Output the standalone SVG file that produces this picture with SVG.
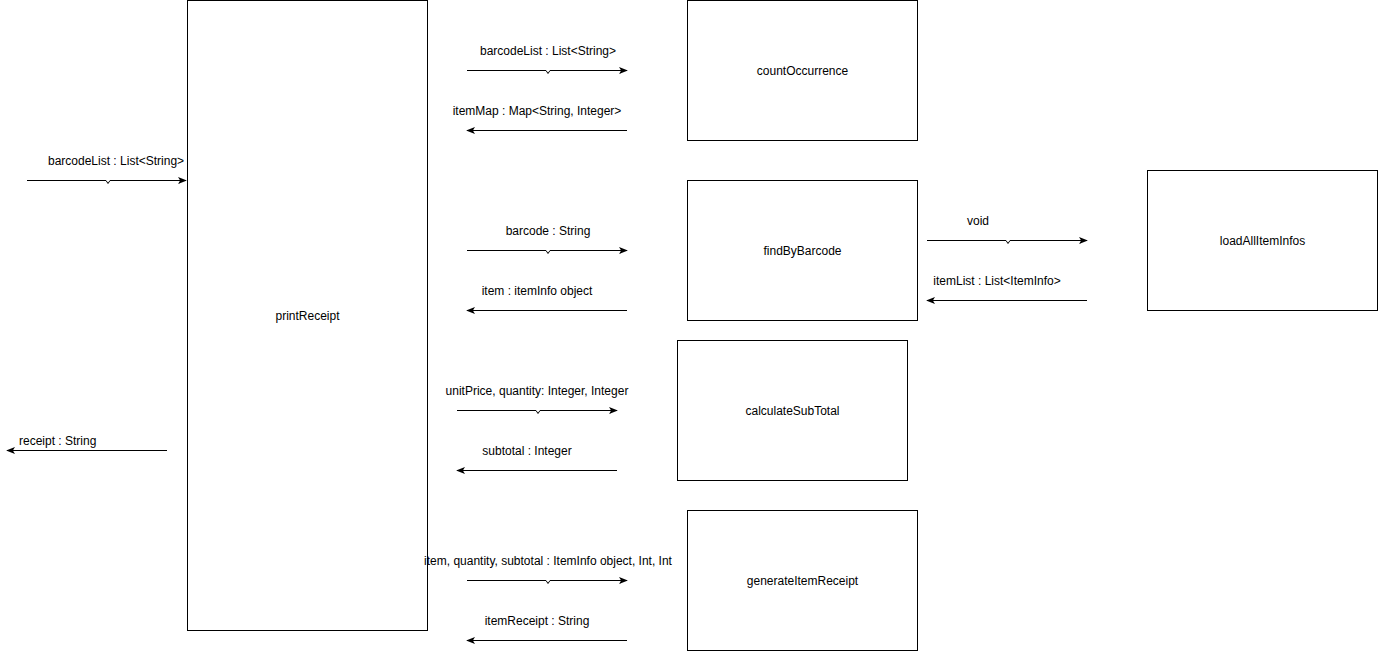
<svg xmlns="http://www.w3.org/2000/svg" width="1378" height="651" viewBox="0 0 1378 651">
<defs>
<style>
.box{fill:#fff;stroke:#000;stroke-width:1}
.lbl{font-family:"Liberation Sans",Arial,sans-serif;font-size:12px;fill:#000}
.c{text-anchor:middle}
.ln{fill:none;stroke:#000;stroke-width:1}
</style>
<marker id="ah" viewBox="0 0 10 10" refX="9" refY="5" markerWidth="9" markerHeight="9" markerUnits="userSpaceOnUse" orient="auto">
<path d="M0,1 L10,5 L0,9 L2.5,5 Z" fill="#000"/>
</marker>
</defs>
<rect width="1378" height="651" fill="#fff"/>
<g id="printReceipt"><rect class="box" x="187.5" y="0.5" width="240" height="630"/><text class="lbl c" x="307.5" y="320">printReceipt</text></g>
<g id="countOccurrence"><rect class="box" x="687.5" y="0.5" width="230" height="140"/><text class="lbl c" x="802.5" y="75">countOccurrence</text></g>
<g id="findByBarcode"><rect class="box" x="687.5" y="180.5" width="230" height="140"/><text class="lbl c" x="802.5" y="255">findByBarcode</text></g>
<g id="loadAllItemInfos"><rect class="box" x="1147.5" y="170.5" width="230" height="140"/><text class="lbl c" x="1262.5" y="245">loadAllItemInfos</text></g>
<g id="calculateSubTotal"><rect class="box" x="677.5" y="340.5" width="230" height="140"/><text class="lbl c" x="792.5" y="415">calculateSubTotal</text></g>
<g id="generateItemReceipt"><rect class="box" x="687.5" y="510.5" width="230" height="140"/><text class="lbl c" x="802.5" y="585">generateItemReceipt</text></g>
<g id="connectors">
<path class="ln" d="M27,180.5 H106 L108,183.5 L110,180.5 H186" marker-end="url(#ah)"/>
<text class="lbl" x="48" y="165">barcodeList : List&lt;String&gt;</text>
<path class="ln" d="M467,70.5 H546 L548,73.5 L550,70.5 H627" marker-end="url(#ah)"/>
<text class="lbl c" x="548" y="55">barcodeList : List&lt;String&gt;</text>
<path class="ln" d="M627,130.5 H467" marker-end="url(#ah)"/>
<text class="lbl c" x="537" y="115">itemMap : Map&lt;String, Integer&gt;</text>
<path class="ln" d="M467,250.5 H546 L548,253.5 L550,250.5 H627" marker-end="url(#ah)"/>
<text class="lbl c" x="548" y="235">barcode : String</text>
<path class="ln" d="M627,310.5 H467" marker-end="url(#ah)"/>
<text class="lbl c" x="537" y="295">item : itemInfo object</text>
<path class="ln" d="M457,410.5 H536 L538,413.5 L540,410.5 H617" marker-end="url(#ah)"/>
<text class="lbl c" x="537" y="395">unitPrice, quantity: Integer, Integer</text>
<path class="ln" d="M617,470.5 H457" marker-end="url(#ah)"/>
<text class="lbl c" x="527" y="455">subtotal : Integer</text>
<path class="ln" d="M467,580.5 H546 L548,583.5 L550,580.5 H627" marker-end="url(#ah)"/>
<text class="lbl c" x="548" y="565">item, quantity, subtotal : ItemInfo object, Int, Int</text>
<path class="ln" d="M627,640.5 H467" marker-end="url(#ah)"/>
<text class="lbl c" x="537" y="625">itemReceipt : String</text>
<path class="ln" d="M927,240.5 H1006 L1008,243.5 L1010,240.5 H1087" marker-end="url(#ah)"/>
<text class="lbl c" x="978" y="225">void</text>
<path class="ln" d="M1087,300.5 H927" marker-end="url(#ah)"/>
<text class="lbl c" x="997" y="285">itemList : List&lt;ItemInfo&gt;</text>
<path class="ln" d="M167,450.5 H7" marker-end="url(#ah)"/>
<text class="lbl" x="19" y="445">receipt : String</text>
</g>
</svg>
